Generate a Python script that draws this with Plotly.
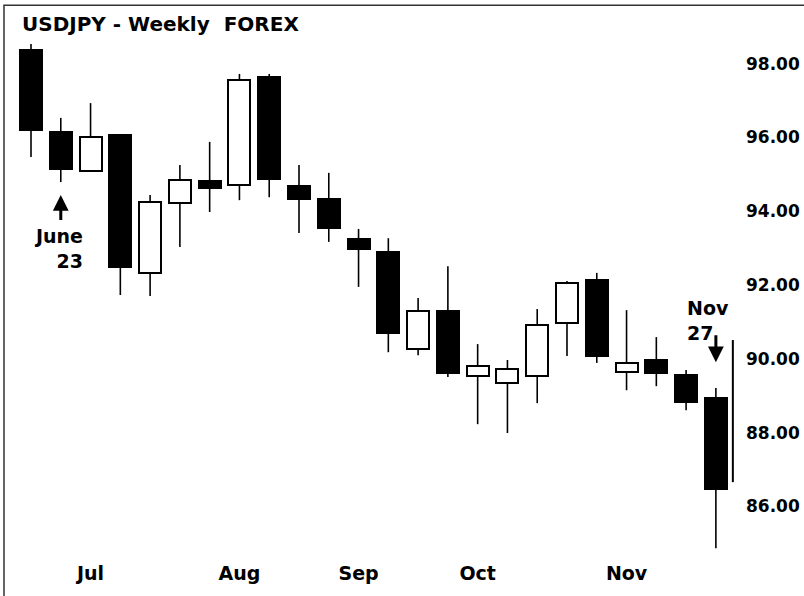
import plotly.graph_objects as go

# ---- data (weekly USDJPY) ----
week_index = list(range(24))
opens  = [98.37, 96.15, 95.09, 96.07, 92.33, 94.22, 94.82, 94.71, 97.64, 94.68, 94.33, 93.25,
          92.89, 90.27, 91.30, 89.53, 89.34, 89.53, 90.97, 92.14, 89.64, 89.97, 89.56, 88.94]
highs  = [98.53, 96.53, 96.93, 96.09, 94.44, 95.25, 95.88, 97.72, 97.72, 95.25, 95.04, 93.52,
          93.27, 91.65, 92.51, 90.40, 89.97, 91.35, 92.11, 92.33, 91.32, 90.59, 89.70, 89.21]
lows   = [95.47, 94.79, 95.09, 91.73, 91.70, 93.03, 93.98, 94.30, 94.38, 93.41, 93.17, 91.95,
          90.18, 90.10, 89.51, 88.23, 87.99, 88.80, 90.08, 89.89, 89.15, 89.26, 88.61, 84.87]
closes = [96.20, 95.14, 96.01, 92.49, 94.25, 94.85, 94.63, 97.56, 94.87, 94.33, 93.54, 92.98,
          90.70, 91.30, 89.62, 89.80, 89.72, 90.92, 92.05, 90.08, 89.89, 89.62, 88.83, 86.47]

month_ticks = [2, 7, 11, 15, 20]
month_labels = ["Jul", "Aug", "Sep", "Oct", "Nov"]
price_ticks = [86, 88, 90, 92, 94, 96, 98]

# vertical range marker at the right of the last bar
marker_x = [23.57, 23.57]
marker_y = [90.51, 86.66]

# annotation anchors (week index, price)
june_arrow = dict(x=1, tip=94.44, tail=93.72)
nov_arrow = dict(x=23, tip=89.91, tail=90.68)
june_text = dict(x=1.81, y=92.99, text="June<br>23")
nov_text = dict(x=21.96, y=91.05, text="Nov<br>27")

FONT = "DejaVu Sans"

# ---- derived ----
body_base = [min(o, c) for o, c in zip(opens, closes)]
body_len = [max(abs(c - o), 0.04) for o, c in zip(opens, closes)]
body_top = [max(o, c) for o, c in zip(opens, closes)]
body_fill = ["white" if c > o else "black" for o, c in zip(opens, closes)]

wx, wy = [], []
for i, h, l, t, b in zip(week_index, highs, lows, body_top, body_base):
    wx += [i, i, None, i, i, None]
    wy += [t, h, None, l, b, None]

fig = go.Figure()
fig.add_trace(go.Scatter(x=wx, y=wy, mode="lines",
                         line=dict(color="black", width=1.6),
                         hoverinfo="skip", showlegend=False))
fig.add_trace(go.Bar(x=week_index, y=body_len, base=body_base, width=0.74,
                     marker=dict(color=body_fill, line=dict(color="black", width=2)),
                     showlegend=False))
fig.add_trace(go.Scatter(x=marker_x, y=marker_y, mode="lines",
                         line=dict(color="black", width=2),
                         hoverinfo="skip", showlegend=False))

ann = []
for a in (june_arrow, nov_arrow):
    ann.append(dict(x=a["x"], y=a["tip"], ax=a["x"], ay=a["tail"],
                    xref="x", yref="y", axref="x", ayref="y",
                    text="", showarrow=True, arrowhead=2, arrowsize=1.05,
                    arrowwidth=3, arrowcolor="black"))
ann.append(dict(x=june_text["x"], y=june_text["y"], xref="x", yref="y",
                text=june_text["text"], showarrow=False, align="right",
                xanchor="right", yanchor="middle",
                font=dict(family=FONT, size=19, color="black", weight="bold")))
ann.append(dict(x=nov_text["x"], y=nov_text["y"], xref="x", yref="y",
                text=nov_text["text"], showarrow=False, align="left",
                xanchor="left", yanchor="middle",
                font=dict(family=FONT, size=19, color="black", weight="bold")))
ann.append(dict(x=0, y=1, xref="paper", yref="paper", xshift=8, yshift=2,
                text="USDJPY - Weekly  FOREX", showarrow=False,
                xanchor="left", yanchor="bottom",
                font=dict(family=FONT, size=20, color="black", weight="bold")))

fig.update_layout(
    width=804, height=596,
    margin=dict(l=12, r=64, t=40, b=36),
    paper_bgcolor="white", plot_bgcolor="white",
    font=dict(family=FONT, size=19, color="black"),
    annotations=ann,
    bargap=0,
    shapes=[dict(type="rect", xref="paper", yref="paper",
                 x0=-0.011, x1=1.2, y0=-0.2, y1=1.067,
                 line=dict(color="#333333", width=1.5), fillcolor="rgba(0,0,0,0)",
                 layer="above")],
)
fig.update_xaxes(range=[-0.638, 23.81], tickvals=month_ticks, ticktext=month_labels,
                 showgrid=False, zeroline=False, showline=False, ticks="",
                 automargin=False,
                 tickfont=dict(family=FONT, size=19, weight="bold"))
fig.update_yaxes(range=[84.55, 98.64], side="right", tickvals=price_ticks,
                 tickformat=".2f", showgrid=False, zeroline=False, showline=False,
                 ticks="", ticklabelstandoff=5, automargin=False,
                 tickfont=dict(family=FONT, size=17, weight="bold"))

fig.write_html("out.html", config={"displayModeBar": False},
               post_script="document.body.style.margin='0px';")
